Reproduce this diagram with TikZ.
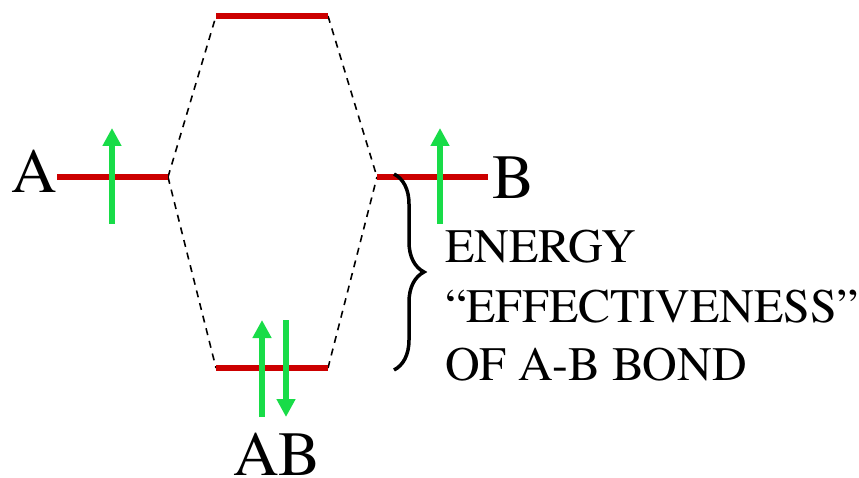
\documentclass[tikz,border=0pt]{standalone}
\usepackage{fontspec}
\IfFontExistsTF{texgyretermes-regular.otf}
	{\setmainfont{texgyretermes-regular.otf}}
	{\setmainfont{Liberation Serif}}
\usetikzlibrary{arrows.meta,decorations.pathreplacing}
\definecolor{levelred}{RGB}{204,0,0}
\definecolor{spingreen}{RGB}{24,220,72}

\begin{document}
\begin{tikzpicture}[x=1pt,y=-1pt,
	level/.style={levelred,line width=6pt},
	spin/.style={spingreen,line width=6pt,-{Triangle[width=18pt,length=18pt]}},
	link/.style={line width=1.6pt,dash pattern=on 7pt off 6pt},
	big/.style={font=\fontsize{63}{70}\selectfont,inner sep=0pt},
	note/.style={font=\fontsize{48}{58}\selectfont,inner sep=0pt,anchor=base west}]
	\useasboundingbox (0,0) rectangle (859,478);
	
	% 能级端点
	\coordinate (Al) at (57,177);  \coordinate (Ar) at (168,177);
	\coordinate (Bl) at (377,177); \coordinate (Br) at (488,177);
	\coordinate (Tl) at (216,16);  \coordinate (Tr) at (328,16);
	\coordinate (Dl) at (216,368); \coordinate (Dr) at (328,368);
	
	% 绘制虚线
	\draw[link] (Ar) -- (Tl);
	\draw[link] (Ar) -- (Dl);
	\draw[link] (Tr) -- (Bl);
	\draw[link] (Dr) -- (Bl);
	
	% 绘制能级
	\draw[level] (Al) -- (Ar);
	\draw[level] (Bl) -- (Br);
	\draw[level] (Tl) -- (Tr);
	\draw[level] (Dl) -- (Dr);
	
	% 绘制电子自旋
	\draw[spin] (112,224) -- (112,128);
	\draw[spin] (440,224) -- (440,128);
	\draw[spin] (262,417) -- (262,320);
	\draw[spin] (286,320) -- (286,417);
	
	% 标签
	\node[big,anchor=base east] (labA) at (57,193) {A};
	\node[big,anchor=base west] (labB) at (492,199) {B};
	\node[big,anchor=base] (labAB) at (277,475) {AB};
	
	% 绘制大括号和说明
	\draw[line width=3.5pt,decorate,decoration={brace,amplitude=30pt}] (394,174) -- (394,370);
	\node[note] (line1) at (445,263) {ENERGY};
	\node[note] (line2) at (445,322) {“EFFECTIVENESS”};
	\node[note] (line3) at (445,380) {OF A-B BOND};
\end{tikzpicture}
\end{document}
